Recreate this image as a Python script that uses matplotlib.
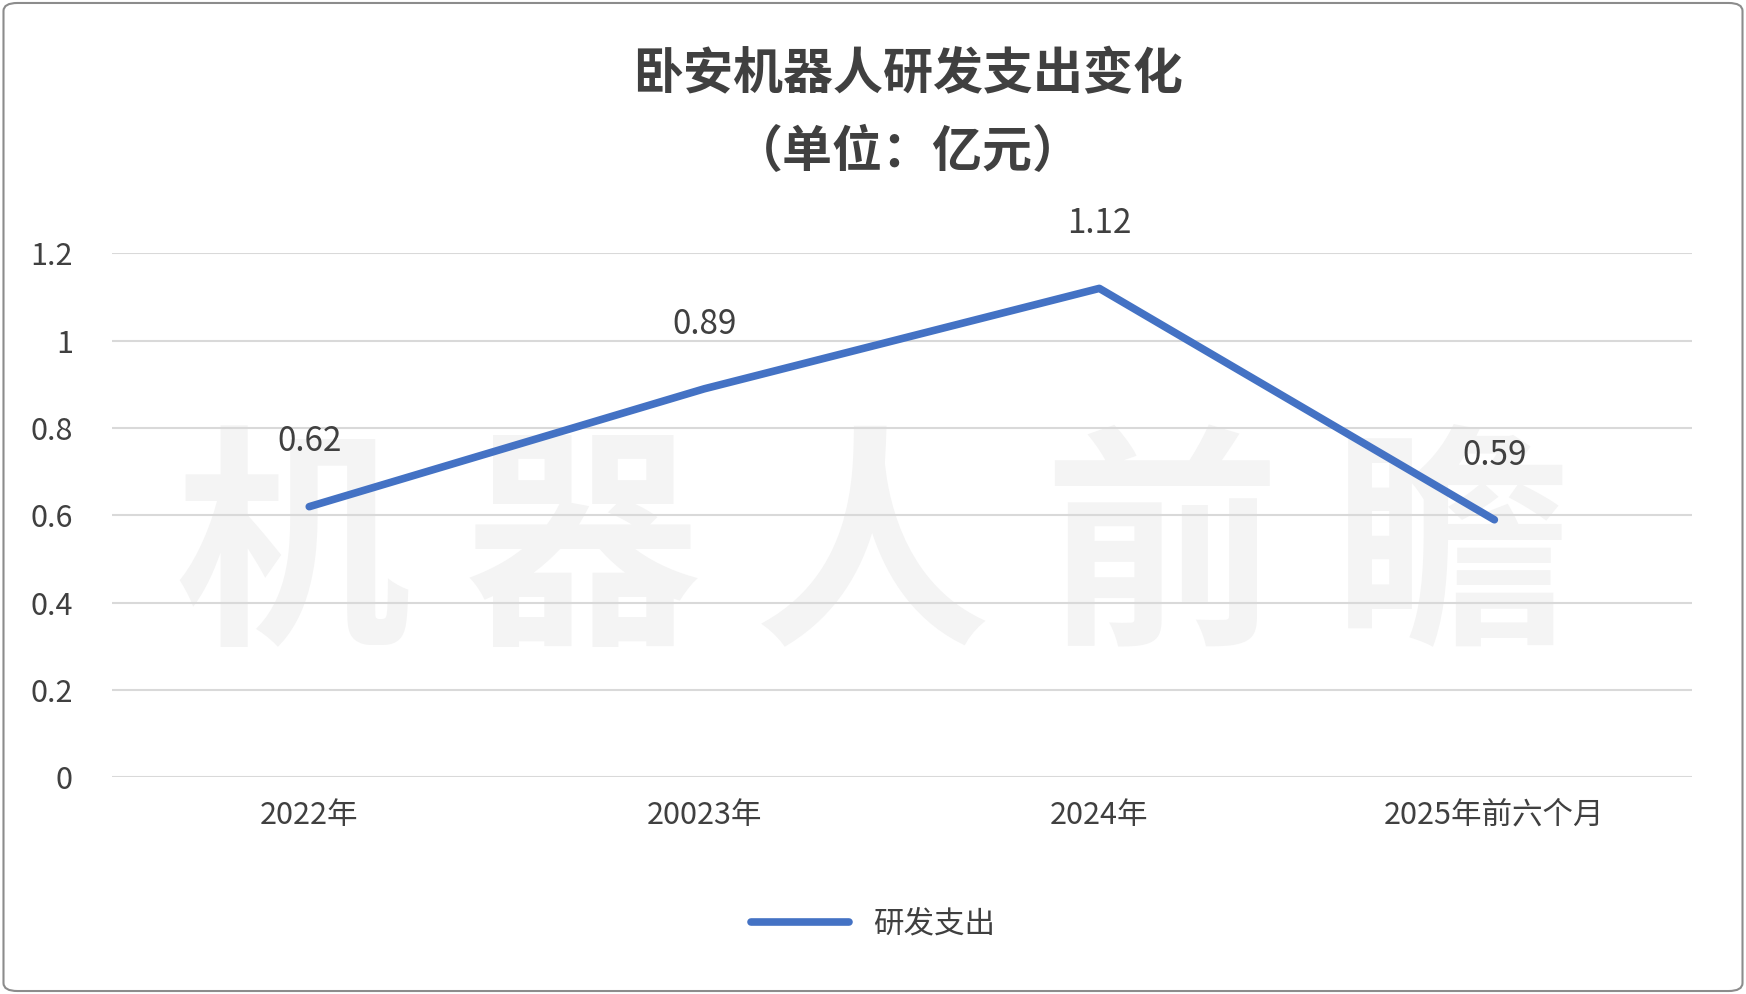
import matplotlib
matplotlib.use('Agg')
import matplotlib.pyplot as plt
from matplotlib.patches import FancyBboxPatch

plt.rcParams['font.family'] = ['Noto Sans CJK SC', 'DejaVu Sans']

categories = ['2022年', '20023年', '2024年', '2025年前六个月']
values = [0.62, 0.89, 1.12, 0.59]
yticks = [0, 0.2, 0.4, 0.6, 0.8, 1.0, 1.2]
yticklabels = ['0', '0.2', '0.4', '0.6', '0.8', '1', '1.2']

fig = plt.figure(figsize=(17.46, 9.94), dpi=100)
fig.patch.set_facecolor('white')
fig.patches.append(FancyBboxPatch((0.002, 0.003), 0.996, 0.994, boxstyle='round,pad=0,rounding_size=0.008',
                                  transform=fig.transFigure, fill=False, edgecolor='#8c8c8c', linewidth=1.5))

ax = fig.add_axes([0.064, 0.218, 0.905, 0.527])
ax.patch.set_alpha(0)
x = list(range(len(categories)))
ax.set_xlim(-0.5, 3.5)
ax.set_ylim(0, 1.2)
ax.set_yticks(yticks)
ax.set_yticklabels(yticklabels, fontsize=22, color='#404040')
ax.set_xticks(x)
ax.set_xticklabels(categories, fontsize=22, color='#404040')
ax.tick_params(length=0, pad=16)
ax.tick_params(axis='y', pad=28)
for s in ax.spines.values():
    s.set_visible(False)
ax.grid(axis='y', color='#d9d9d9', linewidth=1.5, zorder=1)
ax.set_axisbelow(True)

# watermark (behind everything)
wm = ax.text(0.50, 0.44, '机 器 人 前 瞻', fontsize=170, fontweight='bold', color='#f4f4f4',
             ha='center', va='center', transform=fig.transFigure, zorder=0.1)

ax.plot(x, values, color='#4472C4', linewidth=5.5, solid_capstyle='round', label='研发支出', zorder=3)
for xi, v in zip(x, values):
    ax.annotate(f'{v:.2f}', (xi, v), xytext=(0, 34), textcoords='offset points',
                ha='center', va='bottom', fontsize=24, color='#404040', zorder=5)

fig.text(0.52, 0.925, '卧安机器人研发支出变化', ha='center', va='center', fontsize=36,
         fontweight='bold', color='#404040')
fig.text(0.52, 0.847, '（单位：亿元）', ha='center', va='center', fontsize=36,
         fontweight='bold', color='#404040')

fig.legend(loc='center', bbox_to_anchor=(0.5, 0.07), frameon=False, fontsize=22,
           handlelength=3.2, labelcolor='#404040')

fig.savefig('out.png', dpi=100)
